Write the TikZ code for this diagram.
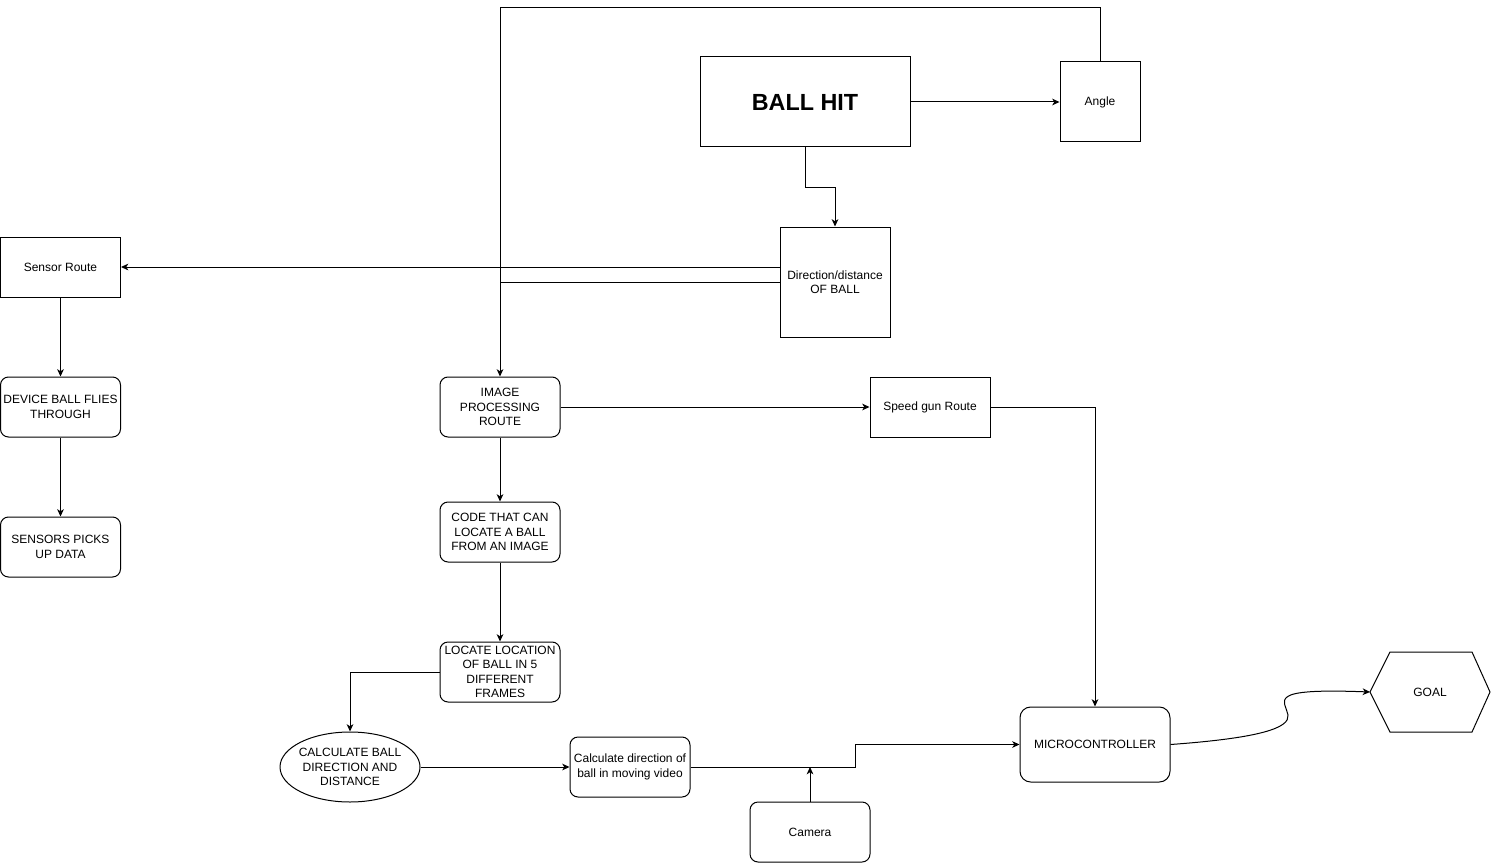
\documentclass[tikz,border=0pt]{standalone}
\usepackage{fontspec}
\setmainfont{Liberation Sans}
\usepackage{tikz}
\usetikzlibrary{shapes.geometric, arrows.meta, positioning, calc}

\begin{document}
\begin{tikzpicture}
  [
    x=0.75pt, y=-0.75pt,
    font=\fontsize{9pt}{10.9pt}\selectfont,
    Box/.style={rectangle, draw=black, line width=0.75pt, inner sep=0pt, align=center, minimum width=90pt, minimum height=45pt},
    RBox/.style={Box, rounded corners=6pt},
    Oval/.style={ellipse, draw=black, line width=0.75pt, inner ysep=0pt, inner xsep=-4pt, align=center, minimum width=105pt, minimum height=52.5pt},
    Line/.style={draw, line width=0.75pt},
    Arr/.style={Line, -{Stealth[length=5.5pt, width=5pt, inset=1.6pt]}}
  ]
  \useasboundingbox (0,0) rectangle (1491,863);
  % Nodes
  \node[Box, minimum width=157.5pt, minimum height=67.5pt, font=\fontsize{17.5pt}{21pt}\selectfont\bfseries] (ballhit) at (805,102) {BALL HIT};
  \node[Box, minimum width=60pt, minimum height=60pt] (angle) at (1100,102) {Angle};
  \node[Box, minimum width=82.5pt, minimum height=82.5pt] (direction) at (835,282) {Direction/distance\\OF BALL};
  \node[Box] (sensor) at (60.5,267) {Sensor Route};
  \node[RBox] (device) at (60.5,407) {DEVICE BALL FLIES\\THROUGH};
  \node[RBox] (pickup) at (60.5,547) {SENSORS PICKS\\UP DATA};
  \node[RBox] (imgproc) at (500,407) {IMAGE\\PROCESSING\\ROUTE};
  \node[Box] (speedgun) at (930,407) {Speed gun Route};
  \node[RBox] (codeloc) at (500,532) {CODE THAT CAN\\LOCATE A BALL\\FROM AN IMAGE};
  \node[RBox] (locate) at (500,672) {LOCATE LOCATION\\OF BALL IN 5\\DIFFERENT\\FRAMES};
  \node[Oval] (calcball) at (350,767) {CALCULATE BALL\\DIRECTION AND\\DISTANCE};
  \node[RBox] (calcdir) at (630,767) {Calculate direction of\\ball in moving video};
  \node[RBox] (camera) at (810,832) {Camera};
  \node[RBox, minimum width=112.5pt, minimum height=56.25pt, rounded corners=8pt] (micro) at (1095,744.5) {MICROCONTROLLER};
  \draw[line width=0.75pt] (1370,692) -- (1390,652) -- (1472,652) -- (1490,692) -- (1472,732) -- (1390,732) -- cycle;
  \node (goal) at (1430,692) {GOAL};
  \coordinate (goalW) at (1370,692);
  % Lines
  \path[Arr] (ballhit) -- (angle);
  \path[Arr] (angle.north) -- ++(0,-54) -| (imgproc.north);
  \path[Arr] (ballhit.south) -- ++(0,40) -| (direction.north);
  \path[Arr] (direction.west |- sensor.east) -- (sensor.east);
  \path[Line] (direction.west) -- (direction.west -| imgproc.north);
  \path[Arr] (sensor) -- (device);
  \path[Arr] (device) -- (pickup);
  \path[Arr] (imgproc) -- (speedgun);
  \path[Arr] (imgproc) -- (codeloc);
  \path[Arr] (codeloc) -- (locate);
  \path[Arr] (locate.west) -| (calcball.north);
  \path[Arr] (calcball) -- (calcdir);
  \path[Arr] (calcdir.east) -- ++(165,0) |- (micro.west);
  \path[Arr] (camera.north) -- (camera.north |- calcdir.east);
  \path[Arr] (speedgun.east) -| (micro.north);
  \path[Arr] (micro.east) .. controls (1260,738) and (1290,728) .. (1288,715)
    .. controls (1285,700) and (1265,688) .. (goalW);
\end{tikzpicture}
\end{document}
